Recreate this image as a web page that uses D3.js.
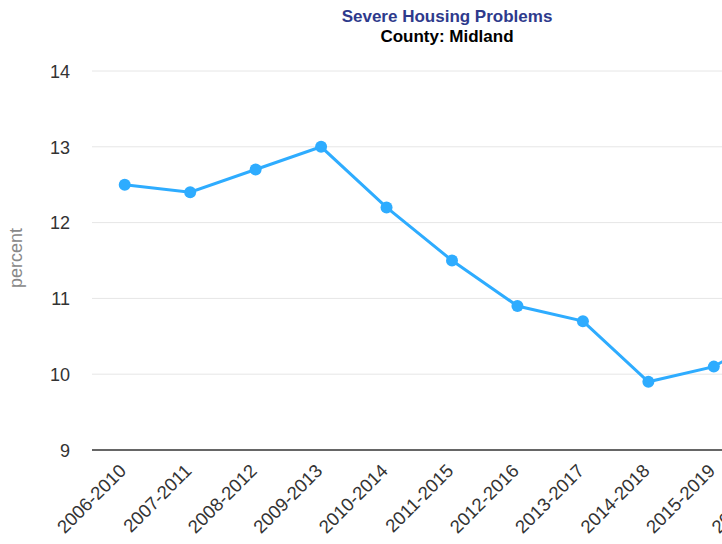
<!DOCTYPE html>
<html>
<head>
<title>Severe Housing Problems</title>
<script src="https://d3js.org/d3.v7.min.js"></script>
<style>
 body { margin: 0; overflow: hidden; background: #fff; }
 text { font-family: "Liberation Sans", Arial, sans-serif; }
</style>
</head>
<body>
<div id="chart"></div>
<script>
// chart data
var periods = ["2006-2010", "2007-2011", "2008-2012", "2009-2013", "2010-2014",
  "2011-2015", "2012-2016", "2013-2017", "2014-2018", "2015-2019", "2016-2020"];
var percent = [12.5, 12.4, 12.7, 13.0, 12.2, 11.5, 10.9, 10.7, 9.9, 10.1, 10.6];
var yTicks = [9, 10, 11, 12, 13, 14];

var width = 894, height = 544;
var svg = d3.select("#chart").append("svg")
  .attr("width", width).attr("height", height);

var x = d3.scalePoint().domain(periods).range([92, 812]).padding(0.5);
var y = d3.scaleLinear().domain([9, 14]).range([450, 71]);

// gridlines
svg.append("g").selectAll("line")
  .data(yTicks.slice(1))
  .enter().append("line")
  .attr("x1", 92).attr("x2", width)
  .attr("y1", function(d) { return y(d); })
  .attr("y2", function(d) { return y(d); })
  .style("stroke", "#e6e6e6").style("stroke-width", 1);

// y axis labels
var yAxis = svg.append("g")
  .attr("transform", "translate(92,0)")
  .call(d3.axisLeft(y).tickValues(yTicks).tickFormat(d3.format("d"))
    .tickSize(0).tickPadding(22));
yAxis.select(".domain").remove();
yAxis.selectAll("text")
  .style("font-size", "18px").style("fill", "#333")
  .attr("dy", "0.35em");

// x axis
var xAxis = svg.append("g")
  .attr("transform", "translate(0,450)")
  .call(d3.axisBottom(x).tickSize(0));
xAxis.select(".domain")
  .attr("d", "M92,0H" + width)
  .style("stroke", "#333").style("stroke-width", 1.5);
xAxis.selectAll("text")
  .style("font-size", "18.5px").style("fill", "#333")
  .style("text-anchor", "end")
  .attr("dy", null)
  .attr("transform", "translate(2,22) rotate(-45)")
  .attr("y", 0).attr("x", 0);

// axis title
svg.append("text")
  .attr("transform", "translate(22,258) rotate(-90)")
  .attr("text-anchor", "middle")
  .style("font-size", "18px").style("fill", "#888")
  .text("percent");

// titles
svg.append("text")
  .attr("x", 447).attr("y", 22)
  .attr("text-anchor", "middle")
  .style("font-size", "17px").style("font-weight", "bold").style("fill", "#2e3a8c")
  .text("Severe Housing Problems");
svg.append("text")
  .attr("x", 447).attr("y", 42)
  .attr("text-anchor", "middle")
  .style("font-size", "17px").style("font-weight", "bold").style("fill", "#000")
  .text("County: Midland");

// line + markers
var line = d3.line()
  .x(function(d, i) { return x(periods[i]); })
  .y(function(d) { return y(d); });

svg.append("path")
  .datum(percent)
  .attr("d", line)
  .style("fill", "none")
  .style("stroke", "#2eacff")
  .style("stroke-width", 3);

svg.append("g").selectAll("circle")
  .data(percent)
  .enter().append("circle")
  .attr("cx", function(d, i) { return x(periods[i]); })
  .attr("cy", function(d) { return y(d); })
  .attr("r", 6)
  .style("fill", "#2eacff");
</script>
</body>
</html>
